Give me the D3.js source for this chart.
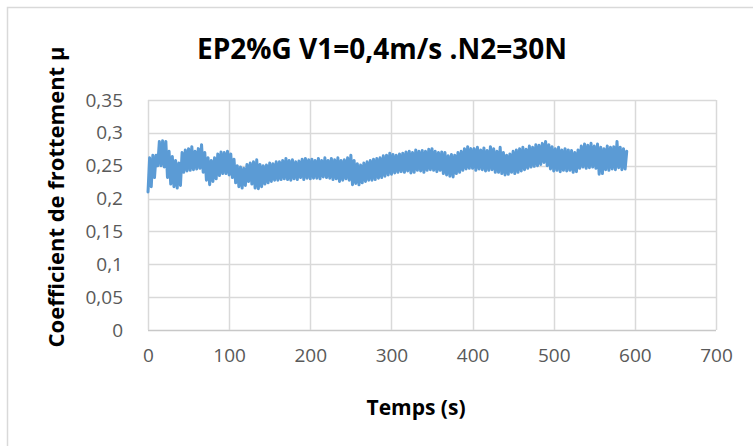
<!DOCTYPE html>
<html>
<head>
<meta charset="utf-8">
<script src="https://cdn.jsdelivr.net/npm/d3@7"></script>
<style>
  html, body { margin: 0; padding: 0; background: #fff; }
  svg { display: block; }
</style>
</head>
<body>
<svg id="chart" width="753" height="446"></svg>
<script>
// ---- data ----
const chartTitle = "EP2%G V1=0,4m/s .N2=30N";
const xTitle = "Temps (s)";
const yTitle = "Coefficient de frottement μ";
const xTicks = [0, 100, 200, 300, 400, 500, 600, 700];
const yTicks = [0, 0.05, 0.1, 0.15, 0.2, 0.25, 0.3, 0.35];

// time (s) of each oscillation, and the low / high value reached around it
const times = [0,4,8,12,16,20,24,28,32,36,40,44,48,52,56,60,64,68,72,76,80,84,88,92,96,100,
  104,108,112,116,120,124,128,132,136,140,144,148,152,156,160,164,168,172,176,180,184,188,192,196,200,
  204,208,212,216,220,224,228,232,236,240,244,248,252,256,260,264,268,272,276,280,284,288,292,296,300,
  304,308,312,316,320,324,328,332,336,340,344,348,352,356,360,364,368,372,376,380,384,388,392,396,400,
  404,408,412,416,420,424,428,432,436,440,444,448,452,456,460,464,468,472,476,480,484,488,492,496,500,
  504,508,512,516,520,524,528,532,536,540,544,548,552,556,560,564,568,572,576,580,584,588];
const lows = [.210,.218,.232,.250,.250,.248,.232,.222,.218,.216,.220,.240,.242,.243,.244,.245,.246,.240,.228,.221,.226,.230,.235,.238,.238,.236,
  .232,.224,.218,.216,.220,.226,.222,.216,.215,.218,.222,.224,.226,.228,.228,.229,.230,.229,.228,.230,.229,.232,.229,.231,.230,
  .231,.231,.230,.233,.232,.231,.229,.230,.226,.228,.230,.228,.221,.223,.221,.224,.226,.228,.228,.229,.231,.232,.234,.236,.237,
  .239,.240,.241,.240,.242,.239,.240,.243,.242,.240,.243,.244,.243,.241,.243,.238,.236,.234,.233,.238,.240,.243,.245,.246,.246,
  .243,.245,.244,.242,.243,.244,.240,.240,.238,.236,.237,.240,.238,.240,.242,.244,.246,.248,.249,.250,.252,.255,.250,.245,.242,
  .243,.241,.243,.242,.243,.240,.241,.246,.248,.246,.247,.248,.246,.237,.238,.244,.243,.245,.244,.247,.244,.245];
const highs = [.262,.266,.266,.287,.288,.287,.272,.264,.258,.254,.270,.274,.276,.279,.272,.276,.282,.270,.262,.258,.262,.268,.271,.270,.272,.268,
  .260,.250,.248,.246,.252,.254,.256,.259,.252,.250,.251,.254,.253,.256,.256,.258,.261,.258,.259,.256,.257,.260,.261,.259,.260,
  .258,.261,.258,.262,.258,.261,.259,.262,.258,.259,.262,.266,.258,.253,.251,.254,.256,.258,.260,.261,.262,.265,.266,.269,.267,
  .266,.268,.269,.271,.272,.270,.274,.272,.273,.272,.275,.276,.272,.270,.271,.270,.265,.267,.266,.270,.272,.276,.279,.276,.276,
  .278,.274,.277,.273,.279,.276,.272,.278,.270,.266,.268,.272,.274,.276,.278,.275,.280,.278,.282,.281,.284,.287,.282,.279,.276,
  .278,.274,.276,.274,.273,.270,.274,.280,.283,.281,.284,.280,.283,.278,.276,.280,.278,.279,.287,.278,.276,.272];

// the signal: low then high of each oscillation, in time order
const series = [];
times.forEach((t, i) => {
  series.push({ t: t, v: lows[i] });
  series.push({ t: t + 2, v: highs[i] });
});

// ---- drawing ----
const svg = d3.select("#chart");
const pLeft = 148, pRight = 716, pTop = 100, pBottom = 330;
const x = d3.scaleLinear().domain([0, 700]).range([pLeft, pRight]);
const y = d3.scaleLinear().domain([0, 0.35]).range([pBottom, pTop]);
const fmt = d => d3.format(",")(d).replace(".", ",");

// outer chart border
svg.append("rect").attr("x", 7.5).attr("y", 7.5).attr("width", 800).attr("height", 500)
  .attr("fill", "#fff").attr("stroke", "#d9d9d9").attr("stroke-width", 1.5);

// gridlines
svg.append("g").selectAll("line").data(yTicks).join("line")
  .attr("x1", pLeft).attr("x2", pRight)
  .attr("y1", d => Math.round(y(d)) + 0.5).attr("y2", d => Math.round(y(d)) + 0.5)
  .attr("stroke", d => d === 0 ? "#c8c8c8" : "#d9d9d9").attr("stroke-width", 1.5);
svg.append("g").selectAll("line").data(xTicks).join("line")
  .attr("y1", pTop).attr("y2", pBottom)
  .attr("x1", d => Math.round(x(d)) + 0.5).attr("x2", d => Math.round(x(d)) + 0.5)
  .attr("stroke", "#d9d9d9").attr("stroke-width", 1.5);

// axes (labels only)
const yAxis = svg.append("g").attr("transform", `translate(${pLeft - 25},0)`)
  .call(d3.axisLeft(y).tickValues(yTicks).tickFormat(fmt).tickSize(0).tickPadding(0));
const xAxis = svg.append("g").attr("transform", `translate(0,${pBottom + 18})`)
  .call(d3.axisBottom(x).tickValues(xTicks).tickFormat(fmt).tickSize(0).tickPadding(0));
[yAxis, xAxis].forEach(a => {
  a.select(".domain").remove();
  a.selectAll("text").attr("fill", "#595959").style("font-family", "'Open Sans', sans-serif")
    .style("font-size", "19px");
});

// the signal line
const line = d3.line().x(d => x(d.t)).y(d => y(d.v));
svg.append("path").datum(series).attr("d", line)
  .attr("fill", "none").attr("stroke", "#5b9bd5").attr("stroke-width", 3)
  .attr("stroke-linejoin", "round").attr("stroke-linecap", "round");

// titles
svg.append("text").attr("x", 382).attr("y", 59).attr("text-anchor", "middle")
  .style("font-family", "'Open Sans', sans-serif").style("font-weight", "bold")
  .style("font-size", "28px").attr("fill", "#000").text(chartTitle);
svg.append("text").attr("x", 416).attr("y", 415).attr("text-anchor", "middle")
  .style("font-family", "'Open Sans', sans-serif").style("font-weight", "bold")
  .style("font-size", "21px").attr("fill", "#000").text(xTitle);
svg.append("text").attr("transform", "translate(64,197) rotate(-90)").attr("text-anchor", "middle")
  .style("font-family", "'Open Sans', sans-serif").style("font-weight", "bold")
  .style("font-size", "22px").attr("fill", "#000").text(yTitle);
</script>
</body>
</html>
